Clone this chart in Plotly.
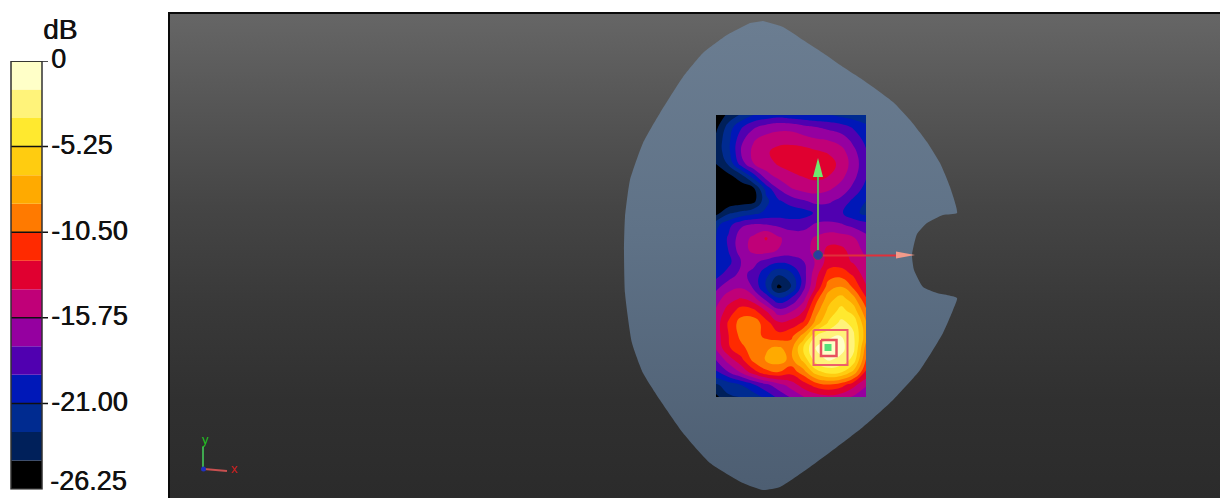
import plotly.graph_objects as go

W, H = 1220, 498

# ---------- colour bar data ----------
band_low = [-26.25, -24.5, -22.75, -21.0, -19.25, -17.5, -15.75, -14.0,
            -12.25, -10.5, -8.75, -7.0, -5.25, -3.5, -1.75]
band_size = [1.75] * 15
band_colors = ["#000000", "#00205A", "#002B90", "#0018B8", "#5000B0",
               "#9500A0", "#C00078", "#E00030", "#FF2A00", "#FF7A00",
               "#FFAA00", "#FFCC10", "#FFE92F", "#FFF37A", "#FFFFC8"]
tick_vals = [0, -5.25, -10.5, -15.75, -21.0, -26.25]
tick_text = ["0", "-5.25", "-10.50", "-15.75", "-21.00", "-26.25"]
unit_label = "dB"

# ---------- SAR field (dB) ----------
field_x = [716, 728.5, 741, 753.5, 766, 778.5, 791, 803.5, 816, 828.5, 841, 853.5, 866]
field_y = [115, 127, 140, 152, 164, 176, 189, 201, 213, 225, 238, 250,
           262, 274, 287, 299, 311, 323, 336, 348, 360, 372, 385, 397]
field_z = [
    [-26, -24, -22.5, -21, -20.5, -20, -20.5, -20.7, -21, -21, -21.5, -22, -22.5],
    [-25, -22, -19.5, -17.8, -16.8, -16.3, -16.3, -17, -17.5, -18, -18.5, -19.5, -20.5],
    [-24, -21.5, -18, -15.9, -15, -14.7, -14.7, -15, -15.5, -15.8, -16.5, -18, -19.8],
    [-24, -21.5, -17.5, -15.3, -14.3, -13.3, -13, -13.2, -13.7, -14.2, -15, -17, -19],
    [-24.5, -22.5, -18.5, -15.8, -14.8, -13.8, -13.3, -12.9, -12.8, -13.1, -14.6, -16.5, -18.8],
    [-25.5, -25, -23.5, -20, -16.5, -15.2, -14.4, -13.9, -13.5, -14, -15.2, -17, -19],
    [-26, -26, -25.7, -25, -20.5, -17.5, -15.9, -15.2, -15, -15.5, -16.5, -18, -20],
    [-26, -26, -25.5, -25.1, -21.5, -19.5, -18.5, -17.7, -17, -17.2, -18, -19.7, -21],
    [-25.2, -23, -22.3, -21.5, -20.6, -20.2, -20.3, -20, -19, -18.7, -19, -20.5, -21.5],
    [-21.5, -19.8, -17.8, -17.2, -17.4, -17.8, -18.2, -18.2, -17.2, -17, -17.3, -18, -18.5],
    [-21, -19, -16.5, -15.4, -13.8, -15.5, -16.5, -16.5, -15.5, -14.8, -15, -15.6, -17],
    [-21, -19.2, -16.5, -15.3, -14.8, -15.8, -16.5, -16.4, -15.2, -13.5, -13.5, -14.8, -16.3],
    [-21, -19.8, -17.5, -17, -18.2, -19, -18.5, -17.6, -15.5, -13.2, -13.2, -14.2, -15.5],
    [-20, -18.5, -17, -18, -20.5, -22.5, -21.5, -18.2, -14.6, -11.5, -11.2, -12.6, -15],
    [-18, -16.5, -16, -17.8, -21, -25, -23, -18, -13.8, -9.5, -8.7, -10.8, -13.8],
    [-16.5, -14.7, -13.8, -15, -18, -20.5, -19, -16.3, -11.2, -7.7, -6.2, -8, -12],
    [-15.5, -13.2, -11.4, -11.7, -14, -16.8, -16, -14, -9.5, -6.5, -4.6, -6, -10],
    [-15, -12, -9.7, -9.4, -11.5, -13.7, -13.2, -12, -8, -5, -3, -4, -8.5],
    [-15, -12.3, -10, -9.6, -11, -11.6, -11, -8, -3.5, -2.2, -1.7, -3.2, -8],
    [-15.5, -12.5, -11, -9.6, -8.9, -8.5, -9.4, -5, -1.6, -0.5, -1.2, -3, -9.5],
    [-17.5, -15, -12.8, -10, -8.6, -7.8, -9.3, -6.5, -2.6, -1.6, -2.2, -4.2, -10.6],
    [-19.5, -17.5, -15.5, -13, -11, -10.5, -11.6, -9.5, -6, -4.5, -5, -7.5, -12.5],
    [-23, -22, -21, -19.5, -18, -16.5, -15, -13.2, -11.5, -10.8, -11.5, -13.5, -15.5],
    [-25, -23, -22.7, -22, -20.5, -18.8, -17.3, -15.8, -15, -14.5, -15, -16, -17.5],
]

# ---------- phantom outline ----------
phantom_x = [763, 783, 803, 823, 843, 863, 893, 910, 927, 940, 950, 957,
             943, 927, 917, 912, 914, 923, 937, 957,
             953, 943, 920, 893, 863, 837, 810, 780, 763, 743, 710, 683,
             660, 643, 632, 625, 624, 625, 630, 643, 660, 683, 703, 727, 750]
phantom_y = [21, 27, 40, 53, 67, 80, 102, 120, 142, 163, 187, 213,
             215, 223, 234, 255, 270, 287, 293, 298,
             310, 333, 370, 400, 427, 447, 467, 487, 490, 483, 463, 433,
             400, 373, 343, 293, 250, 217, 180, 143, 113, 77, 53, 35, 23]

# ---------- background, frame ----------
bg_x = [169, 1220, 1220, 169, 169]
bg_y = [13, 13, 498, 498, 13]
bg_stops = [0, 0.2, 0.4, 0.6, 0.8, 1]
bg_colors = ["#2b2b2b", "#303030", "#393939", "#454545", "#555555", "#666666"]
phantom_stops = [0, 0.55, 1]
phantom_colors = ["#4d5e72", "#5f7287", "#6b7d91"]
frame_x = [169, 169, 1220]
frame_y = [498, 13, 13]

# ---------- overlays ----------
axis_y_x, axis_y_y = [818, 818], [255, 176]
cone_y_x, cone_y_y = [818, 813, 823, 818], [158, 177, 177, 158]
axis_x_x, axis_x_y = [818, 900], [255.5, 255.5]
cone_x_x, cone_x_y = [896, 896, 915, 896], [251.5, 258.5, 255, 251.5]
origin_x, origin_y = [818], [255]
square_outer_x, square_outer_y = [813.5, 847.5, 847.5, 813.5, 813.5], [330, 330, 365, 365, 330]
square_inner_x, square_inner_y = [821, 836.5, 836.5, 821, 821], [340, 340, 356, 356, 340]
peak_x, peak_y = [828], [347.5]

triad_y_x, triad_y_y = [203, 203], [447, 468]
triad_x_x, triad_x_y = [204, 227], [469, 471]
triad_o_x, triad_o_y = [203.5], [469]
triad_labels = [("y", 205, 439, "#22c022"), ("x", 234, 468, "#d02020")]

# ---------- figure ----------
fig = go.Figure()

fig.add_trace(go.Scatter(x=bg_x, y=bg_y, mode="lines", fill="toself",
                         line=dict(width=0), hoverinfo="skip",
                         fillgradient=dict(type="vertical",
                                           colorscale=list(map(list, zip(bg_stops, bg_colors))))))

fig.add_trace(go.Scatter(x=phantom_x, y=phantom_y, mode="lines", fill="toself",
                         line=dict(width=0, shape="spline", smoothing=0.5),
                         fillgradient=dict(type="vertical",
                                           colorscale=list(map(list, zip(phantom_stops, phantom_colors)))),
                         hoverinfo="skip"))

scale = []
n = len(band_colors)
for i, c in enumerate(band_colors):
    scale += [[i / n, c], [(i + 1) / n, c]]

fig.add_trace(go.Contour(x=field_x, y=field_y, z=field_z, xaxis="x3", yaxis="y3",
                         zmin=-26.25, zmax=0, colorscale=scale, showscale=False,
                         autocontour=False,
                         contours=dict(start=-26.25, end=0, size=1.75,
                                       coloring="fill", showlines=False),
                         line=dict(width=0, smoothing=1.3), hoverinfo="skip"))


def add_line(x, y, color, width):
    fig.add_trace(go.Scatter(x=x, y=y, mode="lines", hoverinfo="skip", xaxis="x3", yaxis="y3",
                             line=dict(color=color, width=width)))


def add_poly(x, y, color):
    fig.add_trace(go.Scatter(x=x, y=y, mode="lines", fill="toself", fillcolor=color,
                             xaxis="x3", yaxis="y3",
                             line=dict(width=0), hoverinfo="skip"))


add_line(frame_x, frame_y, "#0a0a0a", 2)
add_line(axis_y_x, axis_y_y, "#5fae5f", 2)
add_line(axis_x_x, axis_x_y, "#e0303a", 2)
add_poly(cone_y_x, cone_y_y, "#6fe86f")
add_poly(cone_x_x, cone_x_y, "#f29a8a")
fig.add_trace(go.Scatter(x=origin_x, y=origin_y, mode="markers", hoverinfo="skip",
                         xaxis="x3", yaxis="y3",
                         marker=dict(size=9, color="#27409f",
                                     line=dict(color="#44506a", width=1))))
add_line(square_outer_x, square_outer_y, "#ee5f6a", 2)
add_line(square_inner_x, square_inner_y, "#e8505e", 2.5)
fig.add_trace(go.Scatter(x=peak_x, y=peak_y, mode="markers", hoverinfo="skip",
                         xaxis="x3", yaxis="y3",
                         marker=dict(size=7, symbol="square", color="#55e07a")))
add_line(triad_y_x, triad_y_y, "#3fa84f", 2)
add_line(triad_x_x, triad_x_y, "#c85050", 2)
fig.add_trace(go.Scatter(x=triad_o_x, y=triad_o_y, mode="markers", hoverinfo="skip",
                         xaxis="x3", yaxis="y3",
                         marker=dict(size=5, color="#2030c0")))

# colour bar as real bars on its own axis
fig.add_trace(go.Bar(x=[0] * n, y=band_size, base=band_low, width=1,
                     marker=dict(color=band_colors, line=dict(width=0)),
                     xaxis="x2", yaxis="y2", hoverinfo="skip"))

shapes = []
for t in tick_vals[:-1]:
    shapes.append(dict(type="line", xref="paper", yref="y2",
                       x0=11 / W, x1=48 / W, y0=t, y1=t,
                       line=dict(color="#101010", width=1.5)))
shapes.append(dict(type="rect", xref="paper", yref="y2",
                   x0=11 / W, x1=42 / W, y0=tick_vals[-1], y1=tick_vals[0],
                   line=dict(color="#303030", width=1.5)))

label_font = dict(family="Liberation Sans", size=27, color="#111111",
                  shadow="0.6px 0 0 #111111")
annotations = [dict(x=60, y=29, xref="x", yref="y", text=unit_label, showarrow=False,
                    font=dict(family="Liberation Sans", size=28, color="#111111",
                              shadow="0.6px 0 0 #111111")),
               dict(x=49.5 / W, xref="paper", xanchor="left", y=tick_vals[-1], yref="y2",
                    yanchor="bottom", yshift=-7, text=tick_text[-1], showarrow=False,
                    font=label_font, borderpad=0, borderwidth=0)]
for txt, x, y, col in triad_labels:
    annotations.append(dict(x=x, y=y, xref="x", yref="y", text=txt, showarrow=False,
                            font=dict(family="Liberation Sans", size=13, color=col)))

hidden = dict(domain=[0, 1], visible=False, fixedrange=True, automargin=False)
fig.update_layout(
    width=W, height=H, margin=dict(l=0, r=0, t=0, b=0, autoexpand=False),
    paper_bgcolor="#ffffff", plot_bgcolor="#ffffff", showlegend=False,
    shapes=shapes, annotations=annotations,
    xaxis=dict(range=[0, W], **hidden),
    yaxis=dict(range=[H, 0], **hidden),
    xaxis3=dict(range=[0, W], overlaying="x", anchor="y3", **hidden),
    yaxis3=dict(range=[H, 0], overlaying="y", anchor="x3", **hidden),
    xaxis2=dict(range=[-0.5, 0.5], domain=[11 / W, 42 / W], anchor="y2", visible=False,
                automargin=False),
    yaxis2=dict(range=[-26.3, 0], domain=[(H - 489.8) / H, (H - 61) / H], anchor="x2",
                side="right", showgrid=False, zeroline=False, showline=False,
                ticks="", tickmode="array", tickvals=tick_vals[:-1], ticktext=tick_text[:-1],
                ticklabelstandoff=8, ticklabelshift=-2, automargin=False,
                tickfont=label_font),
)

fig.write_html("out.html", config=dict(displayModeBar=False),
               post_script="document.body.style.margin='0';")
